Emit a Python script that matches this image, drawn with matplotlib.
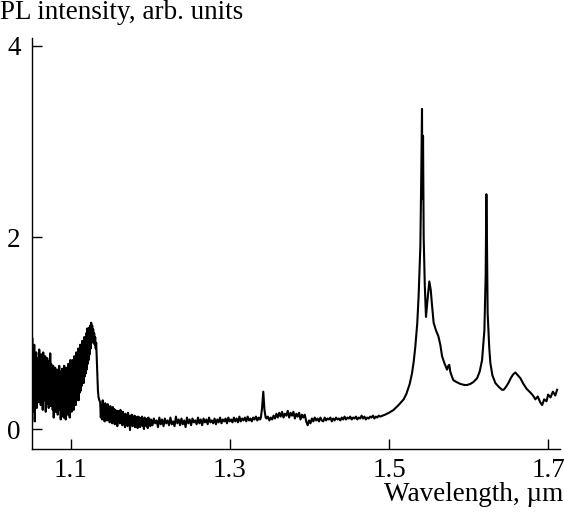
import numpy as np
import matplotlib
matplotlib.use("Agg")
import matplotlib.pyplot as plt

plt.rcParams["font.family"] = ["Liberation Serif", "DejaVu Serif"]
plt.rcParams["font.size"] = 19.5

# --- data (wavelength in um, PL intensity in arb. units) ---

# noisy band 1.051 .. 1.132 (sample grid + read values)
band_x_range = (1.051, 1.132)
band_y = [0.42, 0.95, 0.18, 0.72, 0.30, 0.88, 0.08, 0.66, 0.35, 0.80,
          0.22, 0.74, 0.40, 0.62, 0.28, 0.83, 0.33, 0.70, 0.25, 0.78,
          0.38, 0.66, 0.20, 0.80, 0.36, 0.72, 0.30, 0.76, 0.18, 0.69,
          0.34, 0.74, 0.26, 0.65, 0.22, 0.71, 0.35, 0.79, 0.24, 0.68,
          0.30, 0.63, 0.20, 0.66, 0.12, 0.58, 0.30, 0.64, 0.18, 0.55,
          0.25, 0.62, 0.15, 0.57, 0.28, 0.66, 0.20, 0.60, 0.10, 0.56,
          0.22, 0.63, 0.14, 0.58, 0.12, 0.66, 0.18, 0.60, 0.10, 0.64,
          0.20, 0.62, 0.15, 0.68, 0.22, 0.66, 0.12, 0.72, 0.25, 0.70,
          0.18, 0.72, 0.24, 0.70, 0.20, 0.76, 0.28, 0.74, 0.25, 0.80,
          0.30, 0.78, 0.34, 0.84, 0.30, 0.82, 0.38, 0.88, 0.40, 0.86,
          0.45, 0.92, 0.50, 0.90, 0.48, 0.96, 0.55, 0.94, 0.58, 1.00,
          0.62, 1.05, 0.68, 1.02, 0.72, 1.06, 0.78, 1.08, 0.84, 1.11,
          0.90, 1.08, 0.92, 1.04, 0.90, 1.00, 0.88, 0.96, 0.84, 0.90]

# sharp drop after the 1.13 um band
drop_x = [1.1328, 1.1335, 1.1342, 1.1350, 1.1360]
drop_y = [0.72, 0.55, 0.40, 0.33, 0.30]

# noisy background 1.137 .. 1.200
bg1_x_range = (1.137, 1.200)
bg1_y = [0.28, 0.12, 0.25, 0.10, 0.30, 0.14, 0.22, 0.08, 0.27, 0.12,
         0.20, 0.09, 0.26, 0.11, 0.22, 0.07, 0.24, 0.12, 0.19, 0.06,
         0.23, 0.10, 0.21, 0.05, 0.20, 0.11, 0.18, 0.03, 0.19, 0.09,
         0.17, 0.06, 0.20, 0.08, 0.16, 0.04, 0.18, 0.07, 0.15, 0.02,
         0.16, 0.06, 0.14, 0.03, 0.17, 0.05, 0.13, -0.01, 0.14, 0.05,
         0.15, 0.03, 0.12, 0.04, 0.14, 0.02, 0.13, 0.05, 0.11, 0.01,
         0.13, 0.04, 0.12, 0.02, 0.11, 0.05, 0.13, 0.03, 0.10, 0.00,
         0.12, 0.04, 0.10, 0.03, 0.11, 0.01, 0.12, 0.05, 0.10, 0.03]

# noisy background 1.201 .. 1.338
bg2_x_range = (1.201, 1.338)
bg2_y = [0.10, 0.04, 0.11, 0.06, 0.09, 0.02, 0.12, 0.05, 0.10, 0.03,
         0.11, 0.06, 0.09, 0.04, 0.12, 0.05, 0.08, 0.03, 0.13, 0.06,
         0.10, 0.04, 0.11, 0.05, 0.09, 0.02, 0.12, 0.06, 0.10, 0.04,
         0.11, 0.07, 0.09, 0.05, 0.12, 0.06, 0.10, 0.04, 0.11, 0.07,
         0.10, 0.05, 0.12, 0.07, 0.09, 0.06, 0.11, 0.05, 0.10, 0.07,
         0.12, 0.06, 0.10, 0.08, 0.11, 0.06, 0.12, 0.08, 0.10, 0.07,
         0.12, 0.08, 0.11, 0.07, 0.13, 0.08, 0.11, 0.09, 0.12, 0.08,
         0.13, 0.09, 0.11, 0.08, 0.12, 0.10, 0.13, 0.09, 0.12, 0.10]

# narrow line near 1.342 um
spike_x = [1.339, 1.3405, 1.342, 1.3435, 1.345]
spike_y = [0.12, 0.22, 0.39, 0.20, 0.12]

# noisy background 1.346 .. 1.487
bg3_x_range = (1.346, 1.487)
bg3_y = [0.11, 0.13, 0.09, 0.12, 0.10, 0.14, 0.11, 0.16, 0.12, 0.17,
         0.13, 0.18, 0.12, 0.16, 0.14, 0.19, 0.12, 0.17, 0.14, 0.18,
         0.11, 0.16, 0.13, 0.17, 0.10, 0.15, 0.12, 0.15, 0.08, 0.04,
         0.09, 0.06, 0.11, 0.08, 0.12, 0.09, 0.11, 0.08, 0.12, 0.09,
         0.08, 0.12, 0.09, 0.11, 0.10, 0.12, 0.08, 0.11, 0.09, 0.12,
         0.10, 0.11, 0.09, 0.12, 0.10, 0.13, 0.10, 0.12, 0.11, 0.13,
         0.10, 0.12, 0.11, 0.13, 0.10, 0.12, 0.11, 0.14, 0.11, 0.13,
         0.10, 0.12, 0.11, 0.13, 0.12, 0.14, 0.11, 0.13, 0.12, 0.14]

# 1.5 - 1.7 um peaks region
peak_x = [1.489, 1.495, 1.500, 1.5058, 1.512, 1.5184, 1.522, 1.526, 1.5289,
          1.531, 1.5331, 1.5355, 1.5372, 1.5394, 1.5405, 1.5415, 1.5420,
          1.5428, 1.5436, 1.5450, 1.5465, 1.549, 1.5507, 1.5525, 1.554,
          1.5561, 1.559, 1.562, 1.5645, 1.5667, 1.570, 1.573, 1.5745,
          1.5758, 1.577, 1.579, 1.5809, 1.585, 1.590, 1.595, 1.5981,
          1.602, 1.606, 1.6107, 1.614, 1.6170, 1.6199, 1.6215, 1.6224,
          1.6232, 1.6240, 1.626, 1.6274, 1.630, 1.6337, 1.638, 1.642,
          1.6442, 1.647, 1.650, 1.653, 1.656, 1.6589, 1.662, 1.6652,
          1.669, 1.673, 1.6778, 1.681, 1.684, 1.687, 1.690, 1.6925,
          1.695, 1.698, 1.700, 1.703, 1.706, 1.709, 1.7113]
peak_y = [0.13, 0.15, 0.17, 0.20, 0.25, 0.31, 0.37, 0.47, 0.58,
          0.70, 0.86, 1.10, 1.38, 1.90, 2.60, 3.34, 2.40,
          3.06, 2.00, 1.50, 1.17, 1.40, 1.54, 1.45, 1.30,
          1.11, 1.03, 0.97, 0.88, 0.76, 0.68, 0.62, 0.66,
          0.67, 0.60, 0.55, 0.51, 0.49, 0.47, 0.46, 0.46,
          0.47, 0.49, 0.53, 0.60, 0.72, 1.03, 1.60, 2.45,
          1.90, 1.21, 0.85, 0.69, 0.56, 0.48, 0.44, 0.41,
          0.41, 0.44, 0.48, 0.53, 0.57, 0.59, 0.56, 0.53,
          0.47, 0.42, 0.38, 0.35, 0.31, 0.34, 0.28, 0.25,
          0.31, 0.29, 0.36, 0.33, 0.39, 0.35, 0.41]

y_ticks = [0, 2, 4]
x_ticks = [1.1, 1.3, 1.5, 1.7]

# assemble the spectrum
x = np.concatenate([
    np.linspace(*band_x_range, len(band_y)), drop_x,
    np.linspace(*bg1_x_range, len(bg1_y)),
    np.linspace(*bg2_x_range, len(bg2_y)), spike_x,
    np.linspace(*bg3_x_range, len(bg3_y)), peak_x])
y = np.concatenate([band_y, drop_y, bg1_y, bg2_y, spike_y, bg3_y, peak_y])

fig = plt.figure(figsize=(5.64, 5.12), dpi=100)
ax = fig.add_axes([0.0567, 0.1236, 0.9363, 0.8022])

ax.plot(x, y, color="black", linewidth=1.5)

ax.set_xlim(1.0513, 1.715)
ax.set_ylim(-0.205, 4.08)
ax.spines["top"].set_visible(False)
ax.spines["right"].set_visible(False)
for s in ["left", "bottom"]:
    ax.spines[s].set_linewidth(1.0)

ax.set_xticks(x_ticks)
ax.set_xticklabels([f"{t:.1f}" for t in x_ticks])
ax.set_yticks(y_ticks)
ax.tick_params(axis="both", direction="in", length=7, width=1.0)
ax.tick_params(axis="x", pad=7)
ax.tick_params(axis="y", pad=8)

fig.text(0.0, 1.0, "PL intensity, arb. units", ha="left", va="top")
fig.text(0.998, 0.01, "Wavelength, µm", ha="right", va="bottom")

fig.savefig("out.png", dpi=100)
